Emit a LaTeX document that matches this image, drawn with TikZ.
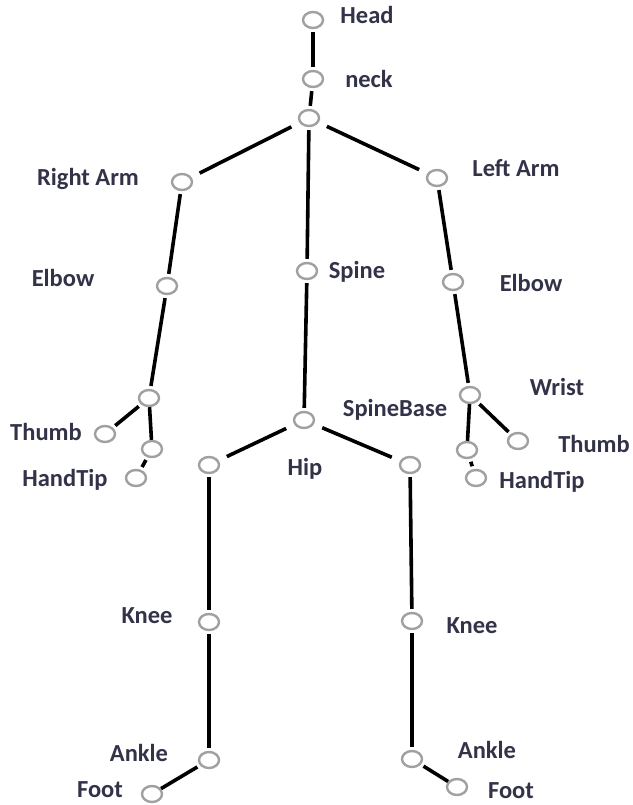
\documentclass[tikz,border=0pt]{standalone}
\usepackage{fontspec}
\setmainfont{Carlito}
\usetikzlibrary{shapes.geometric}

\definecolor{jointgray}{RGB}{160,160,160}
\definecolor{labelink}{RGB}{50,50,72}

\tikzset{
  joint/.style={ellipse,draw=jointgray,line width=2.4pt,fill=white,
    minimum width=20pt,minimum height=16pt,inner sep=0pt},
  bone/.style={line width=3.6pt,shorten >=3pt,shorten <=3pt},
  wide bone/.style={bone,shorten >=9pt,shorten <=9pt},
  lbl/.style={anchor=mid,yshift=-4pt,text=labelink,
    font=\fontsize{24.5}{28}\selectfont\bfseries,inner sep=0pt}
}

\begin{document}
\begin{tikzpicture}[x=1pt,y=-1pt]
\useasboundingbox (0,0) rectangle (632,805);

% joints
\node[joint] (head) at (313,20) {};
\node[joint] (neck) at (313,79) {};
\node[joint] (shoulder) at (309,118) {};
\node[joint] (rshoulder) at (182,182) {};
\node[joint] (lshoulder) at (437,178) {};
\node[joint] (spine) at (307,271) {};
\node[joint] (relbow) at (167,286) {};
\node[joint] (lelbow) at (453,282) {};
\node[joint] (spinebase) at (304,420) {};
\node[joint] (rwrist) at (149,398) {};
\node[joint] (lwrist) at (470,395) {};
\node[joint] (rthumb) at (105,434) {};
\node[joint] (rhand) at (152,449) {};
\node[joint] (rtip) at (136,478) {};
\node[joint] (lthumb) at (518,441) {};
\node[joint] (lhand) at (467,450) {};
\node[joint] (ltip) at (476,478) {};
\node[joint] (rhip) at (209,465) {};
\node[joint] (lhip) at (410,465) {};
\node[joint] (rknee) at (209,622) {};
\node[joint] (lknee) at (412,621) {};
\node[joint] (rankle) at (209,760) {};
\node[joint] (lankle) at (412,759) {};
\node[joint] (rfoot) at (152,794) {};
\node[joint] (lfoot) at (457,787) {};

% bones
\draw[bone] (head) -- (neck);
\draw[bone] (neck) -- (shoulder);
\draw[wide bone] (shoulder) -- (rshoulder);
\draw[wide bone] (shoulder) -- (lshoulder);
\draw[bone] (shoulder) -- (spine);
\draw[bone] (spine) -- (spinebase);
\draw[bone] (rshoulder) -- (relbow);
\draw[bone] (lshoulder) -- (lelbow);
\draw[bone] (relbow) -- (rwrist);
\draw[bone] (lelbow) -- (lwrist);
\draw[bone] (rwrist) -- (rthumb);
\draw[bone,shorten <=0pt,shorten >=0pt] (rwrist) -- (rhand);
\draw[bone] (rhand) -- (rtip);
\draw[bone] (lwrist) -- (lthumb);
\draw[bone,shorten <=0pt,shorten >=0pt] (lwrist) -- (lhand);
\draw[bone] (lhand) -- (ltip);
\draw[wide bone] (spinebase) -- (rhip);
\draw[wide bone] (spinebase) -- (lhip);
\draw[bone] (rhip) -- (rknee);
\draw[bone] (lhip) -- (lknee);
\draw[bone] (rknee) -- (rankle);
\draw[bone] (lknee) -- (lankle);
\draw[bone,shorten >=0pt] (rankle) -- (rfoot);
\draw[bone,shorten >=0pt] (lankle) -- (lfoot);

% labels
\node[lbl] (headtxt) at (367,17) {Head};
\node[lbl] (necktxt) at (369,81) {neck};
\node[lbl] (rshouldertxt) at (88,179) {Right Arm};
\node[lbl] (lshouldertxt) at (516,170) {Left Arm};
\node[lbl] (relbowtxt) at (63,280) {Elbow};
\node[lbl] (spinetxt) at (357,272) {Spine};
\node[lbl] (lelbowtxt) at (531,285) {Elbow};
\node[lbl] (lwristtxt) at (557,389) {Wrist};
\node[lbl] (spinebasetxt) at (395,410) {SpineBase};
\node[lbl] (rthumbtxt) at (46,434) {Thumb};
\node[lbl] (lthumbtxt) at (594,446) {Thumb};
\node[lbl] (rtiptxt) at (65,480) {HandTip};
\node[lbl] (hiptxt) at (305,469) {Hip};
\node[lbl] (ltiptxt) at (542,482) {HandTip};
\node[lbl] (rkneetxt) at (147,617) {Knee};
\node[lbl] (lkneetxt) at (472,627) {Knee};
\node[lbl] (rankletxt) at (139,755) {Ankle};
\node[lbl] (lanklettxt) at (487,752) {Ankle};
\node[lbl] (rfoottxt) at (100,791) {Foot};
\node[lbl] (lfoottxt) at (511,792) {Foot};
\end{tikzpicture}
\end{document}
